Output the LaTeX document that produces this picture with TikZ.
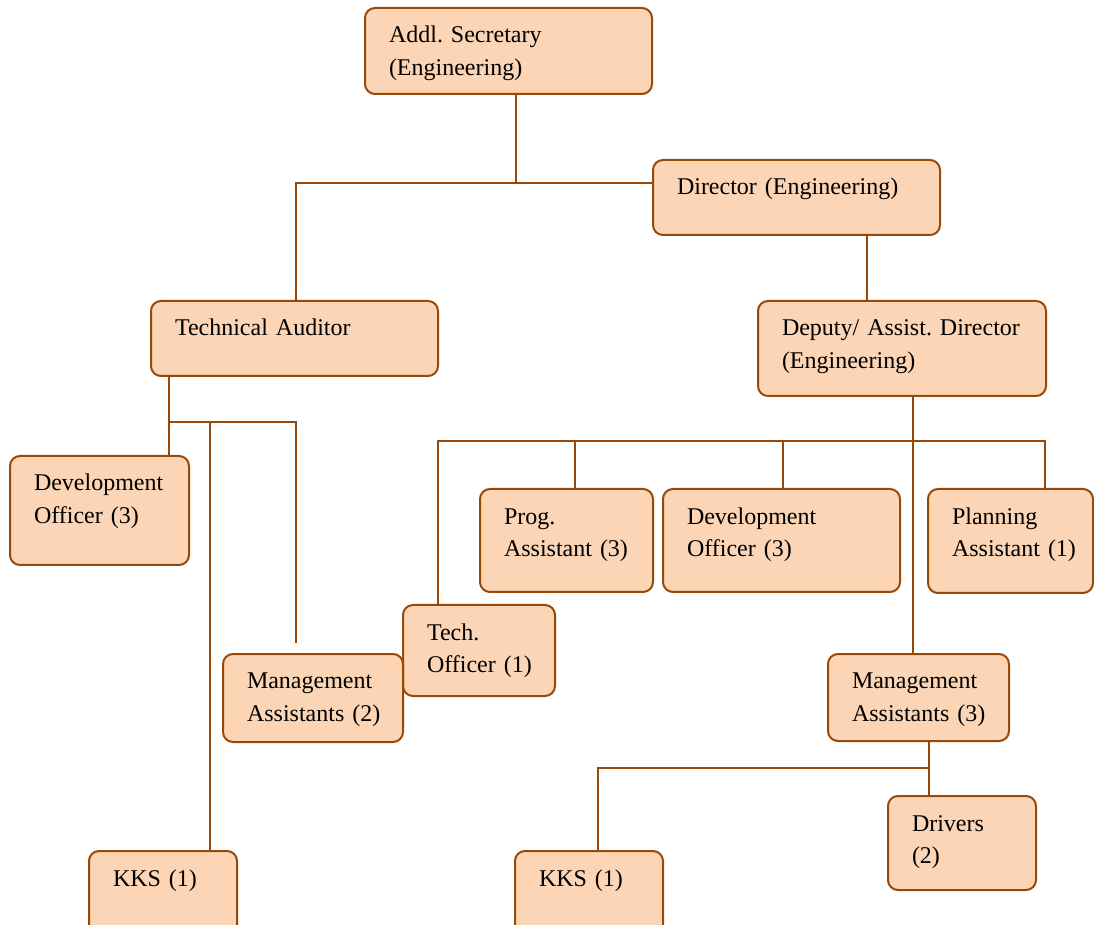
\documentclass[tikz,border=0pt]{standalone}
\usepackage{fontspec}
\setmainfont{Liberation Serif}
\usepackage{xcolor}
\usepackage{tikz}
\definecolor{postfill}{HTML}{FBD5B5}
\definecolor{postline}{HTML}{984807}
\newcommand{\postfont}{\fontsize{12}{16.25}\selectfont\frenchspacing\hyphenpenalty=10000\relax}
\tikzstyle{post} = [rectangle, rounded corners=5pt, draw=postline, fill=postfill, line width=1pt, anchor=north west, inner xsep=12pt, inner ysep=0pt, outer sep=0pt, text height=17.5pt, align=left, font=\postfont]
\tikzstyle{link} = [draw=postline, line width=0.8pt]

\begin{document}
\begin{tikzpicture}[x=0.5pt, y=-0.5pt]
	\useasboundingbox (0,0) rectangle (1094,925);
	
	\node (addl) [post, text width=119.5pt, text depth=25.5pt] at (365,8) {Addl. Secretary\\(Engineering)};
	\node (dir) [post, text width=119.5pt, text depth=20pt] at (653,160) {Director (Engineering)};
	\node (audit) [post, text width=119.5pt, text depth=20pt] at (151,301) {Technical Auditor};
	\node (deputy) [post, text width=120pt, text depth=30pt] at (758,301) {Deputy/~Assist.~Director\\(Engineering)};
	
	\node (devL) [post, text width=65.5pt, text depth=37pt] at (10,456) {Development\\Officer~(3)};
	\node (prog) [post, text width=62.5pt, text depth=34pt] at (480,489) {Prog.\\Assistant~(3)};
	\node (devM) [post, text width=94.5pt, text depth=34pt] at (663,489) {Development\\Officer~(3)};
	\node (plan) [post, text width=58.5pt, text depth=34.5pt] at (928,489) {Planning\\Assistant~(1)};
	\node (tech) [post, text width=52pt, text depth=28pt] at (403,605) {Tech.\\Officer~(1)};
	\node (mgmtL) [post, text width=66pt, text depth=26.5pt] at (223,654) {Management\\Assistants~(2)};
	\node (mgmtR) [post, text width=66.5pt, text depth=26pt] at (828,654) {Management\\Assistants~(3)};
	\node (drivers) [post, text width=50pt, text depth=29.5pt] at (888,796) {Drivers\\(2)};
	\node (kksL) [post, text width=50pt, text depth=27.5pt] at (89,851) {KKS (1)};
	\node (kksR) [post, text width=50pt, text depth=27.5pt] at (515,851) {KKS (1)};
	
	% top level
	\coordinate (busA) at (516,183);
	\draw [link] (addl.south -| busA) -- (busA);
	\draw [link] ([xshift=0.75pt]audit.north) |- (busA) -- (busA -| dir.west);
	\coordinate (busE) at (867,268);
	\draw [link] (dir.south -| busE) -- (deputy.north -| busE);
	
	% technical auditor
	\coordinate (busB) at (169,422);
	\coordinate (busBk) at (210,422);
	\coordinate (stub) at (296,643);
	\draw [link] (audit.south -| busB) -- (devL.north -| busB);
	\draw [link] (busB) -| (stub);
	\draw [link] (busBk) -- (kksL.north -| busBk);
	
	% deputy director
	\coordinate (busC) at (913,441);
	\draw [link] (deputy.south -| busC) -- (mgmtR.north -| busC);
	\draw [link] ([xshift=-20.5pt]tech.north) |- (busC) -| ([xshift=17.25pt]plan.north);
	\foreach \n/\s in {prog/4.25pt, devM/0.75pt}
		\draw [link] ([xshift=\s]\n.north) |- (busC);
	
	\coordinate (busD) at (929,768);
	\draw [link] (mgmtR.south -| busD) -- (drivers.north -| busD);
	\draw [link] (busD) -| ([xshift=4.5pt]kksR.north);
	
\end{tikzpicture}
\end{document}
